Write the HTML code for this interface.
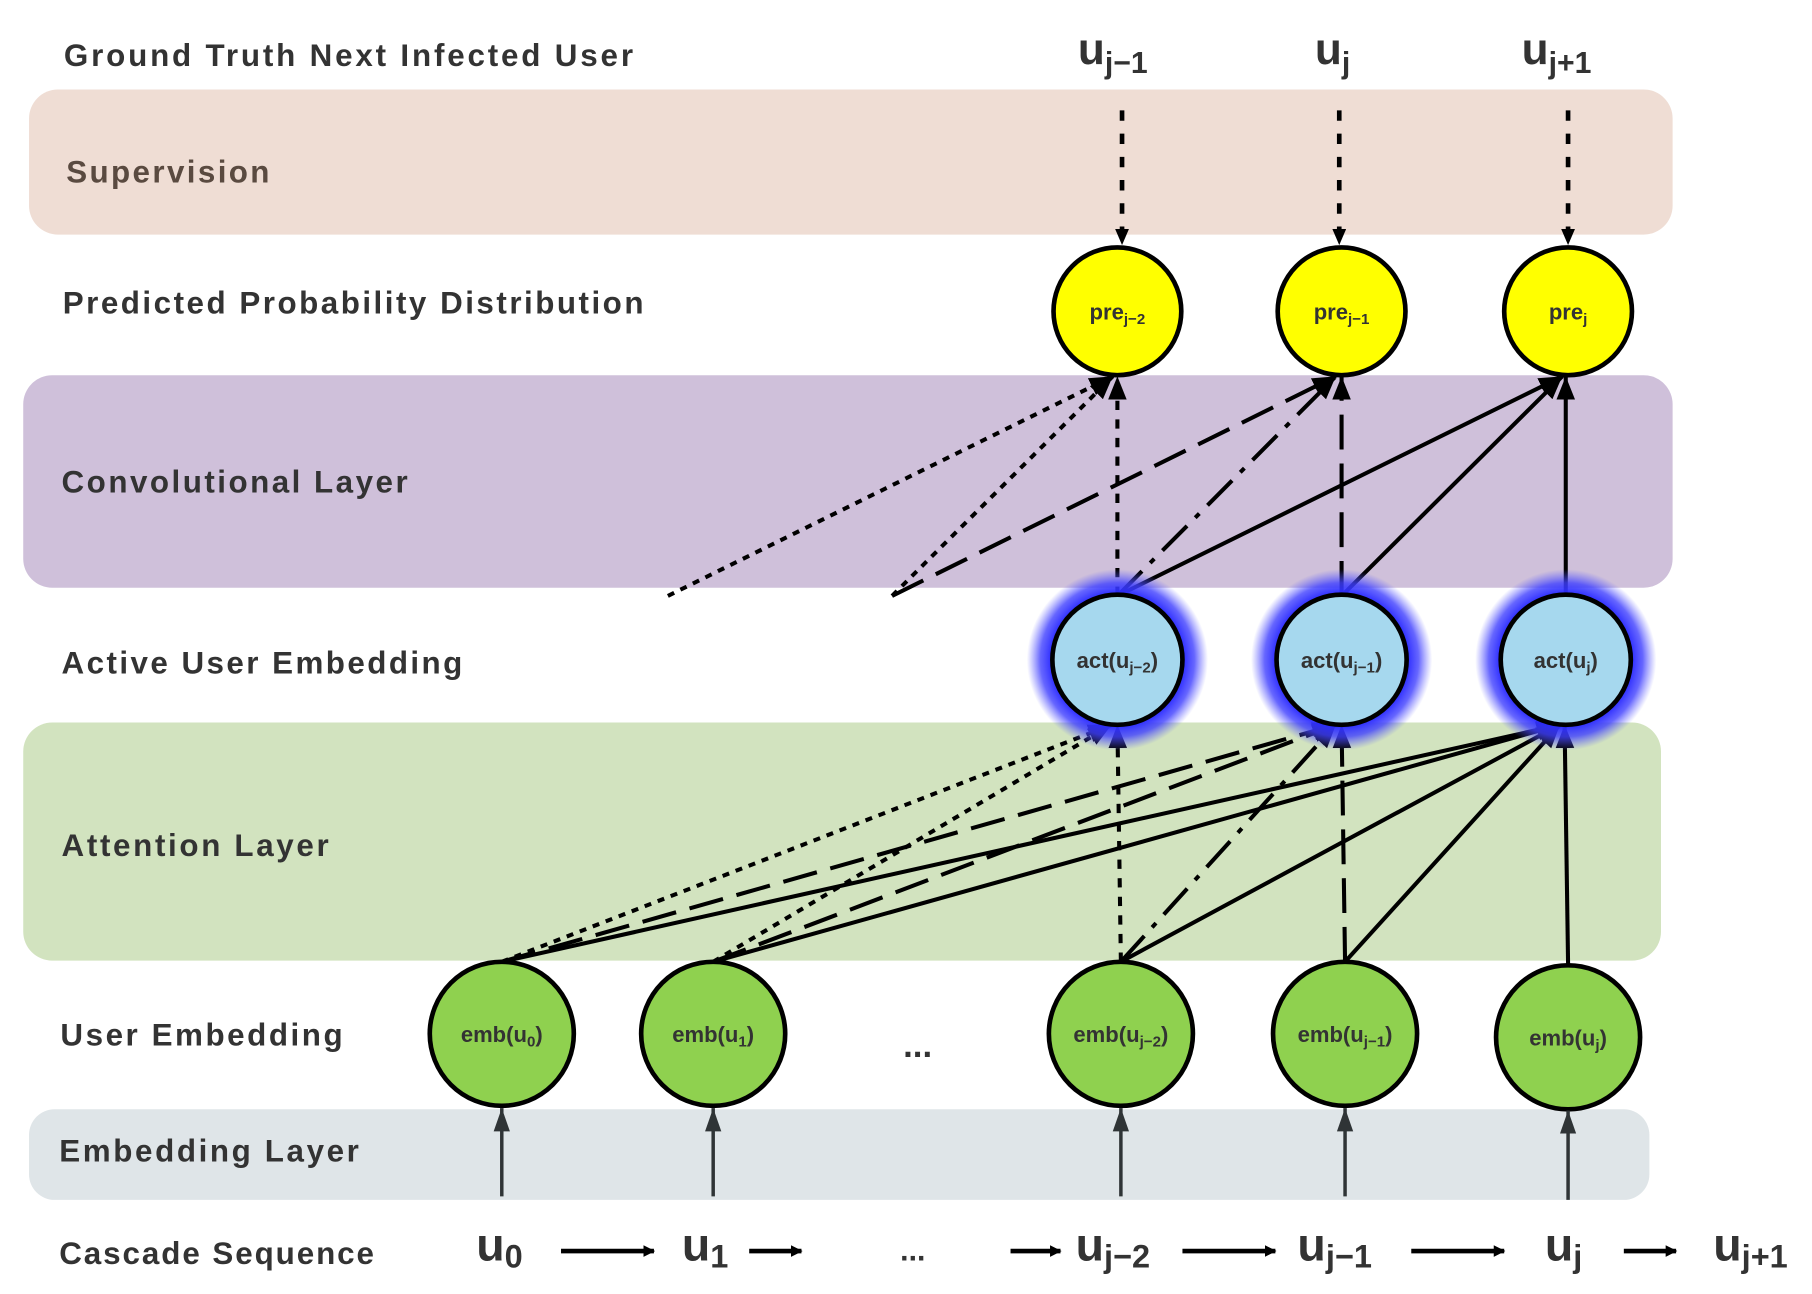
<!DOCTYPE html>
<html><head><meta charset="utf-8"><style>
html,body{margin:0;padding:0;background:#fff;}
svg{display:block;}
text{font-family:"Liberation Sans","DejaVu Sans",sans-serif;font-weight:bold;fill:#333;}
</style></head><body>
<svg width="1812" height="1294" viewBox="0 0 1560 1114" preserveAspectRatio="none" xmlns="http://www.w3.org/2000/svg">
<defs>
<marker id="ah" markerWidth="10" markerHeight="10" refX="9" refY="5" orient="auto" markerUnits="userSpaceOnUse">
<path d="M0,0 L10,5 L0,10 z" fill="#000"/></marker>
<marker id="ahb" markerWidth="22" markerHeight="20" refX="20" refY="10" orient="auto" markerUnits="userSpaceOnUse">
<path d="M0,2 L20,10 L0,18 z" fill="#000"/></marker>
<marker id="ahg" markerWidth="22" markerHeight="18" refX="20" refY="9" orient="auto" markerUnits="userSpaceOnUse">
<path d="M0,2 L20,9 L0,16 z" fill="#2f3436"/></marker>
<marker id="ahs" markerWidth="14" markerHeight="12" refX="13" refY="6" orient="auto" markerUnits="userSpaceOnUse">
<path d="M0,0 L14,6 L0,12 z" fill="#000"/></marker>
<radialGradient id="glow">
<stop offset="0.72" stop-color="#2a2aff" stop-opacity="1"/>
<stop offset="0.85" stop-color="#4040ff" stop-opacity="0.8"/>
<stop offset="1" stop-color="#6060ff" stop-opacity="0"/>
</radialGradient>
</defs>

<!-- bands -->
<rect x="25" y="77" width="1415" height="125" rx="25" fill="#efddd4"/>
<rect x="20" y="323" width="1420" height="183" rx="25" fill="#cfc0da"/>
<rect x="20" y="622" width="1410" height="205" rx="25" fill="#d2e3bf"/>
<rect x="25" y="955" width="1395" height="78" rx="22" fill="#dfe5e8"/>

<!-- left labels -->
<text x="55" y="57" font-size="27" textLength="490">Ground Truth Next Infected User</text>
<text x="57" y="157" font-size="27" textLength="175" style="fill:#5a4a40">Supervision</text>
<text x="54" y="270" font-size="27" textLength="500">Predicted Probability Distribution</text>
<text x="53" y="424" font-size="27" textLength="298">Convolutional Layer</text>
<text x="53" y="580" font-size="27" textLength="345">Active User Embedding</text>
<text x="53" y="737" font-size="27" textLength="230">Attention Layer</text>
<text x="52" y="900" font-size="27" textLength="243">User Embedding</text>
<text x="51" y="1000" font-size="27" textLength="258">Embedding Layer</text>
<text x="51" y="1088" font-size="27" textLength="271">Cascade Sequence</text>

<!-- top labels -->
<text x="928" y="55" font-size="38">u<tspan font-size="26" dy="8">j−1</tspan></text>
<text x="1132" y="55" font-size="38">u<tspan font-size="26" dy="8">j</tspan></text>
<text x="1310" y="55" font-size="38">u<tspan font-size="26" dy="8">j+1</tspan></text>

<!-- supervision arrows -->
<g stroke="#000" stroke-width="4" stroke-dasharray="9,11" fill="none">
<line x1="966" y1="95" x2="966" y2="210" marker-end="url(#ahs)"/>
<line x1="1153" y1="95" x2="1153" y2="210" marker-end="url(#ahs)"/>
<line x1="1350" y1="95" x2="1350" y2="210" marker-end="url(#ahs)"/>
</g>

<!-- conv lines -->
<g stroke="#000" stroke-width="3.5" fill="none">
<line x1="575" y1="513" x2="958" y2="324" stroke-dasharray="6,6" marker-end="url(#ahb)"/>
<line x1="768" y1="513" x2="958" y2="324" stroke-dasharray="6,6" marker-end="url(#ahb)"/>
<line x1="962" y1="513" x2="962" y2="324" stroke-dasharray="8,8" marker-end="url(#ahb)"/>
<line x1="768" y1="513" x2="1150" y2="324" stroke-dasharray="30,12" marker-end="url(#ahb)"/>
<line x1="962" y1="513" x2="1150" y2="324" stroke-dasharray="30,10,5,10" marker-end="url(#ahb)"/>
<line x1="1155" y1="513" x2="1155" y2="324" stroke-dasharray="30,12" marker-end="url(#ahb)"/>
<line x1="962" y1="513" x2="1345" y2="324" marker-end="url(#ahb)"/>
<line x1="1155" y1="513" x2="1345" y2="324" marker-end="url(#ahb)"/>
<line x1="1348" y1="513" x2="1348" y2="324" marker-end="url(#ahb)"/>
</g>

<!-- attention lines -->
<g stroke="#000" stroke-width="3.5" fill="none">
<line x1="432" y1="828" x2="957" y2="624" stroke-dasharray="6,6" marker-end="url(#ahb)"/>
<line x1="614" y1="828" x2="957" y2="624" stroke-dasharray="6,6" marker-end="url(#ahb)"/>
<line x1="965" y1="828" x2="962" y2="624" stroke-dasharray="8,8" marker-end="url(#ahb)"/>
<line x1="432" y1="828" x2="1150" y2="624" stroke-dasharray="30,12" marker-end="url(#ahb)"/>
<line x1="614" y1="828" x2="1150" y2="624" stroke-dasharray="30,12" marker-end="url(#ahb)"/>
<line x1="965" y1="828" x2="1150" y2="624" stroke-dasharray="30,10,5,10" marker-end="url(#ahb)"/>
<line x1="1158" y1="828" x2="1155" y2="624" stroke-dasharray="30,12" marker-end="url(#ahb)"/>
<line x1="432" y1="828" x2="1343" y2="624" marker-end="url(#ahb)"/>
<line x1="614" y1="828" x2="1343" y2="624" marker-end="url(#ahb)"/>
<line x1="965" y1="828" x2="1343" y2="624" marker-end="url(#ahb)"/>
<line x1="1158" y1="828" x2="1343" y2="624" marker-end="url(#ahb)"/>
<line x1="1350" y1="830" x2="1347" y2="624" marker-end="url(#ahb)"/>
</g>

<!-- pre circles -->
<g stroke="#000" stroke-width="4" fill="#ffff00">
<circle cx="962" cy="268" r="55"/>
<circle cx="1155" cy="268" r="55"/>
<circle cx="1350" cy="268" r="55"/>
</g>
<g font-size="19" text-anchor="middle">
<text x="962" y="275">pre<tspan font-size="13" dy="4">j−2</tspan></text>
<text x="1155" y="275">pre<tspan font-size="13" dy="4">j−1</tspan></text>
<text x="1350" y="275">pre<tspan font-size="13" dy="4">j</tspan></text>
</g>

<!-- act circles -->
<circle cx="962" cy="568" r="78" fill="url(#glow)"/>
<circle cx="1155" cy="568" r="78" fill="url(#glow)"/>
<circle cx="1348" cy="568" r="78" fill="url(#glow)"/>
<g stroke="#000" stroke-width="4" fill="#a6d8ee">
<circle cx="962" cy="568" r="56"/>
<circle cx="1155" cy="568" r="56"/>
<circle cx="1348" cy="568" r="56"/>
</g>
<g font-size="19" text-anchor="middle">
<text x="962" y="575">act(u<tspan font-size="13" dy="4">j−2</tspan><tspan dy="-4">)</tspan></text>
<text x="1155" y="575">act(u<tspan font-size="13" dy="4">j−1</tspan><tspan dy="-4">)</tspan></text>
<text x="1348" y="575">act(u<tspan font-size="13" dy="4">j</tspan><tspan dy="-4">)</tspan></text>
</g>

<!-- emb circles -->
<g stroke="#000" stroke-width="4" fill="#8fd14f">
<ellipse cx="432" cy="890" rx="62" ry="62"/>
<ellipse cx="614" cy="890" rx="62" ry="62"/>
<ellipse cx="965" cy="890" rx="62" ry="62"/>
<ellipse cx="1158" cy="890" rx="62" ry="62"/>
<ellipse cx="1350" cy="893" rx="62" ry="62"/>
</g>
<g font-size="19" text-anchor="middle">
<text x="432" y="897">emb(u<tspan font-size="13" dy="4">0</tspan><tspan dy="-4">)</tspan></text>
<text x="614" y="897">emb(u<tspan font-size="13" dy="4">1</tspan><tspan dy="-4">)</tspan></text>
<text x="965" y="897">emb(u<tspan font-size="13" dy="4">j−2</tspan><tspan dy="-4">)</tspan></text>
<text x="1158" y="897">emb(u<tspan font-size="13" dy="4">j−1</tspan><tspan dy="-4">)</tspan></text>
<text x="1350" y="900">emb(u<tspan font-size="13" dy="4">j</tspan><tspan dy="-4">)</tspan></text>
</g>
<text x="790" y="910" font-size="30" text-anchor="middle">...</text>

<!-- embedding arrows -->
<g stroke="#2f3436" stroke-width="3" fill="none">
<line x1="432" y1="1030" x2="432" y2="954" marker-end="url(#ahg)"/>
<line x1="614" y1="1030" x2="614" y2="954" marker-end="url(#ahg)"/>
<line x1="965" y1="1030" x2="965" y2="954" marker-end="url(#ahg)"/>
<line x1="1158" y1="1030" x2="1158" y2="954" marker-end="url(#ahg)"/>
<line x1="1350" y1="1033" x2="1350" y2="956" marker-end="url(#ahg)"/>
</g>

<!-- cascade sequence -->
<g font-size="40">
<text x="410" y="1085">u<tspan font-size="28" dy="6">0</tspan></text>
<text x="587" y="1085">u<tspan font-size="28" dy="6">1</tspan></text>
<text x="775" y="1085" font-size="26">...</text>
<text x="926" y="1085">u<tspan font-size="28" dy="6">j−2</tspan></text>
<text x="1117" y="1085">u<tspan font-size="28" dy="6">j−1</tspan></text>
<text x="1330" y="1085">u<tspan font-size="28" dy="6">j</tspan></text>
<text x="1475" y="1085">u<tspan font-size="28" dy="6">j+1</tspan></text>
</g>
<g stroke="#000" stroke-width="4" fill="none">
<line x1="483" y1="1077" x2="563" y2="1077" marker-end="url(#ah)"/>
<line x1="645" y1="1077" x2="690" y2="1077" marker-end="url(#ah)"/>
<line x1="870" y1="1077" x2="913" y2="1077" marker-end="url(#ah)"/>
<line x1="1018" y1="1077" x2="1098" y2="1077" marker-end="url(#ah)"/>
<line x1="1215" y1="1077" x2="1295" y2="1077" marker-end="url(#ah)"/>
<line x1="1398" y1="1077" x2="1443" y2="1077" marker-end="url(#ah)"/>
</g>
</svg>
</body></html>
